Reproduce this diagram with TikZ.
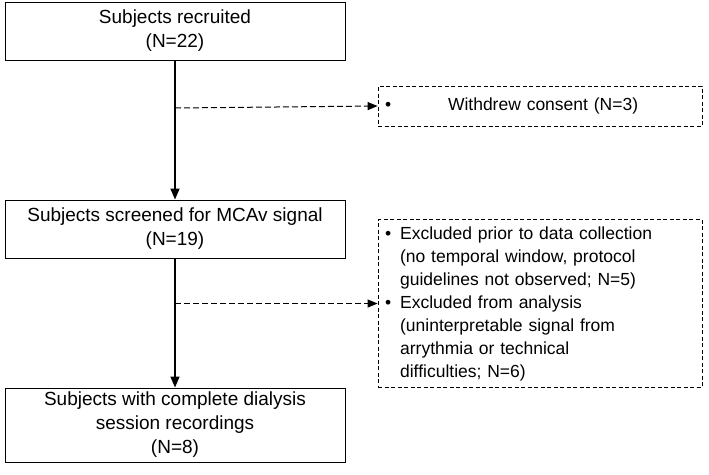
\documentclass[tikz,border=0pt]{standalone}
\usepackage{fontspec}
\setmainfont{Liberation Sans}
\usetikzlibrary{arrows.meta}
\tikzset{
  box/.style={draw, line width=1pt, minimum width=340pt, align=center, font=\fontsize{19}{24}\selectfont},
  note/.style={draw, dash pattern=on 4pt off 2.5pt, line width=0.8pt, minimum width=324pt, font=\fontsize{17.5}{23}\selectfont},
  flow/.style={line width=1.6pt, -{Triangle[length=11pt,width=9pt]}},
  side/.style={dash pattern=on 6pt off 3pt, line width=1pt, -{Triangle[length=10pt,width=8pt]}}
}
\begin{document}
\begin{tikzpicture}[x=1pt,y=-1pt]
  \useasboundingbox (0,0) rectangle (709,474);
  % main boxes
  \node[box, minimum height=58pt] at (175,31) (recruit){Subjects recruited\\(N=22)};
  \node[box, minimum height=58pt] at (175,229) (screen){Subjects screened for MCAv signal\\(N=19)};
  \node[box, minimum height=74pt] at (175,425) (complete){Subjects with complete dialysis\\session recordings\\(N=8)};
  % side boxes
  \node[note, minimum height=40pt, text width=310pt] at (540,106) (withdrew){\textbullet\hfill Withdrew consent (N=3)\hfill\hspace*{1em}};
  \node[note, minimum height=157pt, text width=310pt, align=left] at (540,303.5) (excluded){%
    \begin{tabular}{@{}l@{\hspace{9pt}}l@{}}
    \textbullet & Excluded prior to data collection\\
     & (no temporal window, protocol\\
     & guidelines not observed; N=5)\\
    \textbullet & Excluded from analysis\\
     & (uninterpretable signal from\\
     & arrythmia or technical\\
     & difficulties; N=6)
    \end{tabular}};
  % connectors
  \coordinate (b1) at (175,108);
  \coordinate (b2) at (175,303.5);
  \draw[flow] (recruit.south) -- (screen.north);
  \draw[flow] (screen.south) -- (complete.north);
  \draw[side] (b1) -- (withdrew.west);
  \draw[side] (b2) -- (excluded.west);
\end{tikzpicture}
\end{document}
